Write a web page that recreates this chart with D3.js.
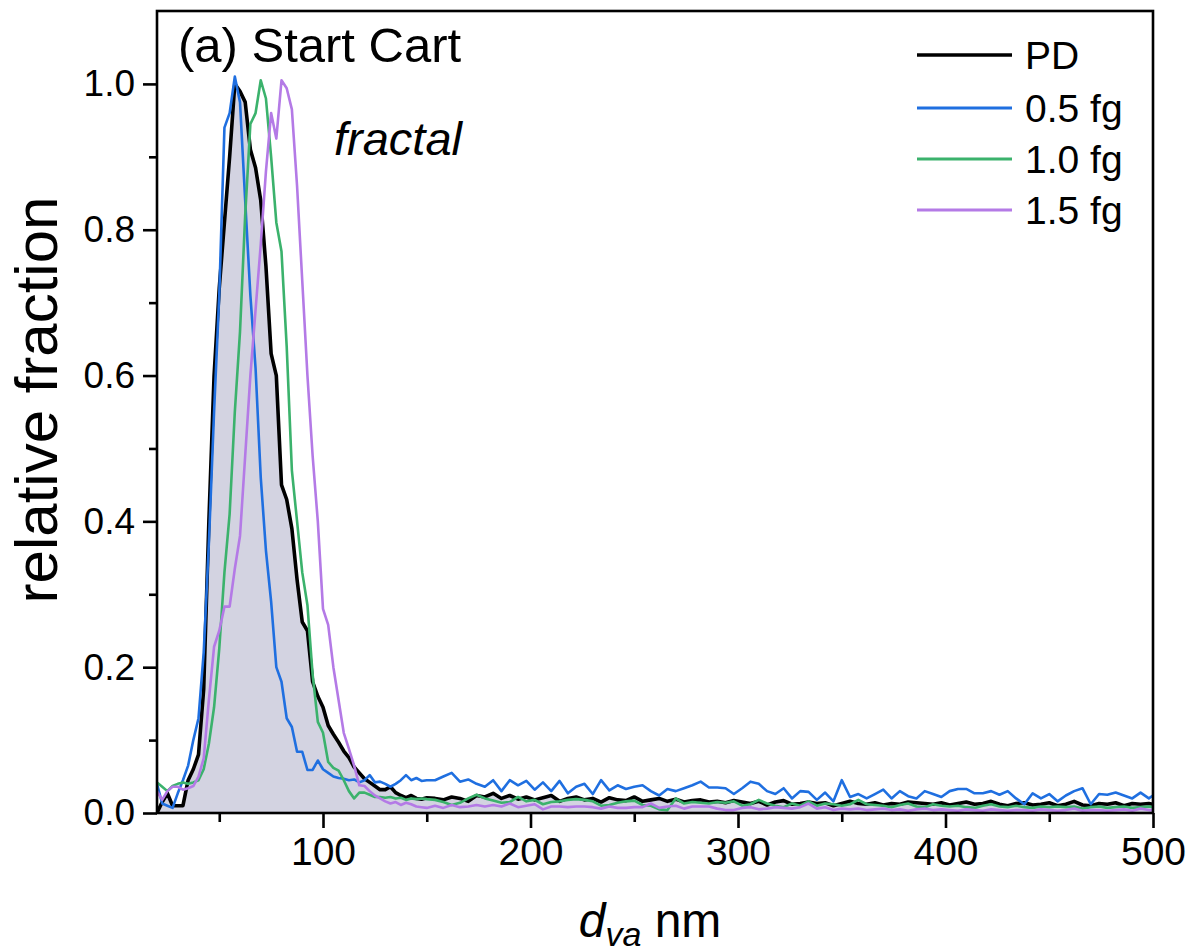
<!DOCTYPE html>
<html><head><meta charset="utf-8">
<script src="https://cdn.jsdelivr.net/npm/d3@7"></script>
<style>
html,body{margin:0;padding:0;background:#fff;}
svg text{font-family:Arial,"Liberation Sans",sans-serif;fill:#000;}
</style></head>
<body><svg id="c" width="1191" height="952"></svg>
<script>
// x grid (vacuum aerodynamic diameter, nm)
const sizesPeak = [20,22.5,25,27.5,30,32.5,35,37.5,40,42.5,
  45,47.5,50,52.5,55,57.5,60,62.5,65,67.5,
  70,72.5,75,77.5,80,82.5,85,87.5,90,92.5,
  95,97.5,100,102.5,105,107.5,110,112.5,115,117.5,
  120,122.5,125,127.5,130,132.5,135,137.5,140,142.5,
  145,147.5,150];
const sizesTail = [154,158,162,166,170,174,178,182,186,190,
  194,198,202,206,210,214,218,222,226,230,
  234,238,242,246,250,254,258,262,266,270,
  274,278,282,286,290,294,298,302,306,310,
  314,318,322,326,330,334,338,342,346,350,
  354,358,362,366,370,374,378,382,386,390,
  394,398,402,406,410,414,418,422,426,430,
  434,438,442,446,450,454,458,462,466,470,
  474,478,482,486,490,494,498,500];

const pdPeak = [0,0.015,0.027,0.01,0.01,0.01,0.045,0.06,0.08,0.17,
  0.4,0.6,0.72,0.81,0.9,1.0,0.99,0.975,0.91,0.885,
  0.84,0.75,0.63,0.6,0.45,0.43,0.39,0.32,0.262,0.25,
  0.18,0.16,0.145,0.12,0.108,0.097,0.085,0.076,0.063,0.055,
  0.047,0.042,0.037,0.032,0.032,0.036,0.028,0.024,0.021,0.024,
  0.02,0.019,0.021];
const pdTail = [0.02,0.018,0.022,0.02,0.016,0.024,0.022,0.027,0.02,0.024,
  0.019,0.022,0.018,0.021,0.024,0.016,0.02,0.022,0.018,0.02,
  0.015,0.021,0.018,0.017,0.022,0.016,0.018,0.02,0.016,0.019,
  0.015,0.017,0.018,0.015,0.016,0.014,0.017,0.015,0.013,0.016,
  0.011,0.015,0.017,0.012,0.013,0.015,0.013,0.014,0.01,0.013,
  0.016,0.013,0.012,0.014,0.011,0.013,0.012,0.015,0.014,0.013,
  0.012,0.014,0.011,0.013,0.015,0.012,0.013,0.016,0.012,0.01,
  0.013,0.014,0.011,0.012,0.014,0.01,0.012,0.016,0.011,0.01,
  0.013,0.012,0.014,0.01,0.013,0.012,0.013,0.012];

const fg05Peak = [0.04,0.013,0.01,0.007,0.027,0.045,0.065,0.1,0.13,0.22,
  0.37,0.55,0.71,0.94,0.96,1.01,0.975,0.84,0.71,0.61,
  0.46,0.36,0.29,0.2,0.18,0.13,0.118,0.084,0.084,0.059,
  0.059,0.072,0.06,0.055,0.05,0.048,0.047,0.045,0.046,0.042,
  0.045,0.052,0.042,0.043,0.04,0.036,0.04,0.045,0.052,0.045,
  0.048,0.044,0.045];
const fg05Tail = [0.045,0.05,0.055,0.043,0.046,0.04,0.036,0.045,0.03,0.045,
  0.038,0.044,0.032,0.042,0.03,0.044,0.027,0.036,0.04,0.026,
  0.045,0.031,0.038,0.033,0.036,0.038,0.03,0.024,0.033,0.03,
  0.034,0.038,0.043,0.035,0.035,0.034,0.026,0.034,0.043,0.04,
  0.03,0.026,0.034,0.02,0.03,0.029,0.018,0.028,0.016,0.045,
  0.022,0.026,0.02,0.026,0.032,0.02,0.03,0.023,0.02,0.03,
  0.026,0.022,0.03,0.033,0.033,0.027,0.027,0.03,0.025,0.03,
  0.02,0.012,0.027,0.02,0.026,0.016,0.024,0.03,0.034,0.012,
  0.026,0.025,0.028,0.024,0.02,0.028,0.02,0.024];

const fg10Peak = [0.042,0.036,0.03,0.037,0.04,0.042,0.04,0.042,0.045,0.06,
  0.095,0.145,0.225,0.33,0.41,0.55,0.66,0.82,0.945,0.96,
  1.005,0.98,0.9,0.81,0.77,0.64,0.47,0.4,0.33,0.285,
  0.19,0.125,0.11,0.07,0.062,0.058,0.045,0.03,0.02,0.028,
  0.028,0.025,0.022,0.022,0.021,0.022,0.02,0.021,0.018,0.02,
  0.019,0.02,0.019];
const fg10Tail = [0.018,0.015,0.011,0.014,0.02,0.025,0.02,0.017,0.014,0.015,
  0.022,0.016,0.018,0.012,0.015,0.016,0.018,0.019,0.018,0.016,
  0.01,0.011,0.014,0.016,0.017,0.011,0.01,0.005,0.004,0.02,
  0.013,0.015,0.014,0.013,0.015,0.014,0.016,0.01,0.012,0.018,
  0.013,0.01,0.008,0.013,0.01,0.016,0.01,0.013,0.012,0.01,
  0.012,0.018,0.012,0.011,0.01,0.008,0.011,0.013,0.009,0.008,
  0.012,0.01,0.009,0.01,0.008,0.007,0.01,0.012,0.009,0.008,
  0.01,0.008,0.007,0.009,0.008,0.009,0.008,0.009,0.006,0.008,
  0.009,0.007,0.008,0.009,0.007,0.008,0.009,0.008];

const fg15Peak = [0.03,0.018,0.03,0.036,0.036,0.032,0.034,0.037,0.05,0.075,
  0.155,0.228,0.25,0.283,0.283,0.335,0.38,0.49,0.6,0.69,
  0.78,0.88,0.96,0.925,1.005,0.994,0.965,0.86,0.73,0.6,
  0.49,0.4,0.28,0.258,0.2,0.155,0.11,0.088,0.065,0.038,
  0.037,0.03,0.024,0.02,0.016,0.013,0.015,0.011,0.014,0.012,
  0.009,0.008,0.007];
const fg15Tail = [0.01,0.007,0.011,0.008,0.009,0.011,0.009,0.011,0.009,0.013,
  0.008,0.01,0.012,0.005,0.009,0.009,0.008,0.009,0.009,0.008,
  0.006,0.009,0.007,0.007,0.008,0.008,0.013,0.007,0.009,0.01,
  0.006,0.009,0.009,0.009,0.006,0.004,0.004,0.007,0.008,0.005,
  0.006,0.008,0.007,0.006,0.008,0.013,0.006,0.008,0.004,0.006,
  0.005,0.006,0.004,0.005,0.006,0.004,0.005,0.003,0.005,0.006,
  0.004,0.005,0.004,0.003,0.005,0.004,0.003,0.005,0.004,0.003,
  0.004,0.004,0.003,0.005,0.004,0.003,0.004,0.006,0.003,0.004,
  0.004,0.003,0.004,0.005,0.003,0.006,0.004,0.004];

const seriesNames = ["PD","0.5 fg","1.0 fg","1.5 fg"];
const seriesColors = ["#000000","#1f6fe0","#3bb26c","#b47ae6"];
const xTicks = [100,200,300,400,500];
const xMinor = [50,150,250,350,450];
const yTicks = [0,0.2,0.4,0.6,0.8,1.0];
const yMinor = [0.1,0.3,0.5,0.7,0.9];

const sizes = sizesPeak.concat(sizesTail);
const series = [pdPeak.concat(pdTail), fg05Peak.concat(fg05Tail),
                fg10Peak.concat(fg10Tail), fg15Peak.concat(fg15Tail)];

const svg = d3.select("#c");
const L = 157, R = 1153, T = 11, B = 813;
const x = d3.scaleLinear().domain([20,500]).range([L,R]);
const y = d3.scaleLinear().domain([0,1.1]).range([B,T]);

svg.append("defs").append("clipPath").attr("id","clip")
  .append("rect").attr("x",L).attr("y",T).attr("width",R-L).attr("height",B-T);

const g = svg.append("g").attr("clip-path","url(#clip)");
const pts = i => sizes.map((s,k)=>[s, series[i][k]]);

g.append("path").datum(pts(0))
  .attr("d", d3.area().x(d=>x(d[0])).y0(y(0)).y1(d=>y(d[1])))
  .attr("fill","#d3d3e1");

const line = d3.line().x(d=>x(d[0])).y(d=>y(d[1]));
[0,1,2,3].forEach(i=>{
  g.append("path").datum(pts(i)).attr("d",line)
    .attr("fill","none").attr("stroke",seriesColors[i])
    .attr("stroke-width", i===0?3.6:2.6).attr("stroke-linejoin","round");
});

// frame
svg.append("rect").attr("x",L).attr("y",T).attr("width",R-L).attr("height",B-T)
  .attr("fill","none").attr("stroke","#000").attr("stroke-width",2.6);

// axes
const xa = svg.append("g").attr("transform",`translate(0,${B})`)
  .call(d3.axisBottom(x).tickValues(xTicks).tickSize(15).tickPadding(9).tickFormat(d3.format("d")));
svg.append("g").attr("transform",`translate(0,${B})`)
  .call(d3.axisBottom(x).tickValues(xMinor).tickSize(9).tickFormat(""));
const ya = svg.append("g").attr("transform",`translate(${L},0)`)
  .call(d3.axisLeft(y).tickValues(yTicks).tickSize(14).tickPadding(8).tickFormat(d3.format(".1f")));
svg.append("g").attr("transform",`translate(${L},0)`)
  .call(d3.axisLeft(y).tickValues(yMinor).tickSize(8).tickFormat(""));
svg.selectAll(".domain").remove();
svg.selectAll(".tick line").attr("stroke","#000").attr("stroke-width",2.6);
xa.selectAll("text").attr("font-size",39).attr("font-family","Arial, 'Liberation Sans', sans-serif").attr("fill","#000");
ya.selectAll("text").attr("font-size",37).attr("font-family","Arial, 'Liberation Sans', sans-serif").attr("fill","#000");

// axis titles
const xt = svg.append("text").attr("x",650).attr("y",937).attr("text-anchor","middle").attr("font-size",48);
xt.append("tspan").attr("font-style","italic").text("d");
xt.append("tspan").attr("font-style","italic").attr("font-size",34).attr("dy",9).text("va");
xt.append("tspan").attr("dy",-9).text(" nm");

svg.append("text").attr("transform","translate(57,400) rotate(-90)")
  .attr("text-anchor","middle").attr("font-size",60).text("relative fraction");

// annotations
svg.append("text").attr("x",178).attr("y",62).attr("font-size",49).text("(a) Start Cart");
svg.append("text").attr("x",334).attr("y",155).attr("font-size",47).attr("font-style","italic").text("fractal");

// legend
const legY = [55,108,159,210];
seriesNames.forEach((n,i)=>{
  svg.append("line").attr("x1",917).attr("x2",1012).attr("y1",legY[i]).attr("y2",legY[i])
    .attr("stroke",seriesColors[i]).attr("stroke-width", i===0?3.6:2.8);
  svg.append("text").attr("x",1025).attr("y",legY[i]+14).attr("font-size",39).text(n);
});
</script></body></html>
